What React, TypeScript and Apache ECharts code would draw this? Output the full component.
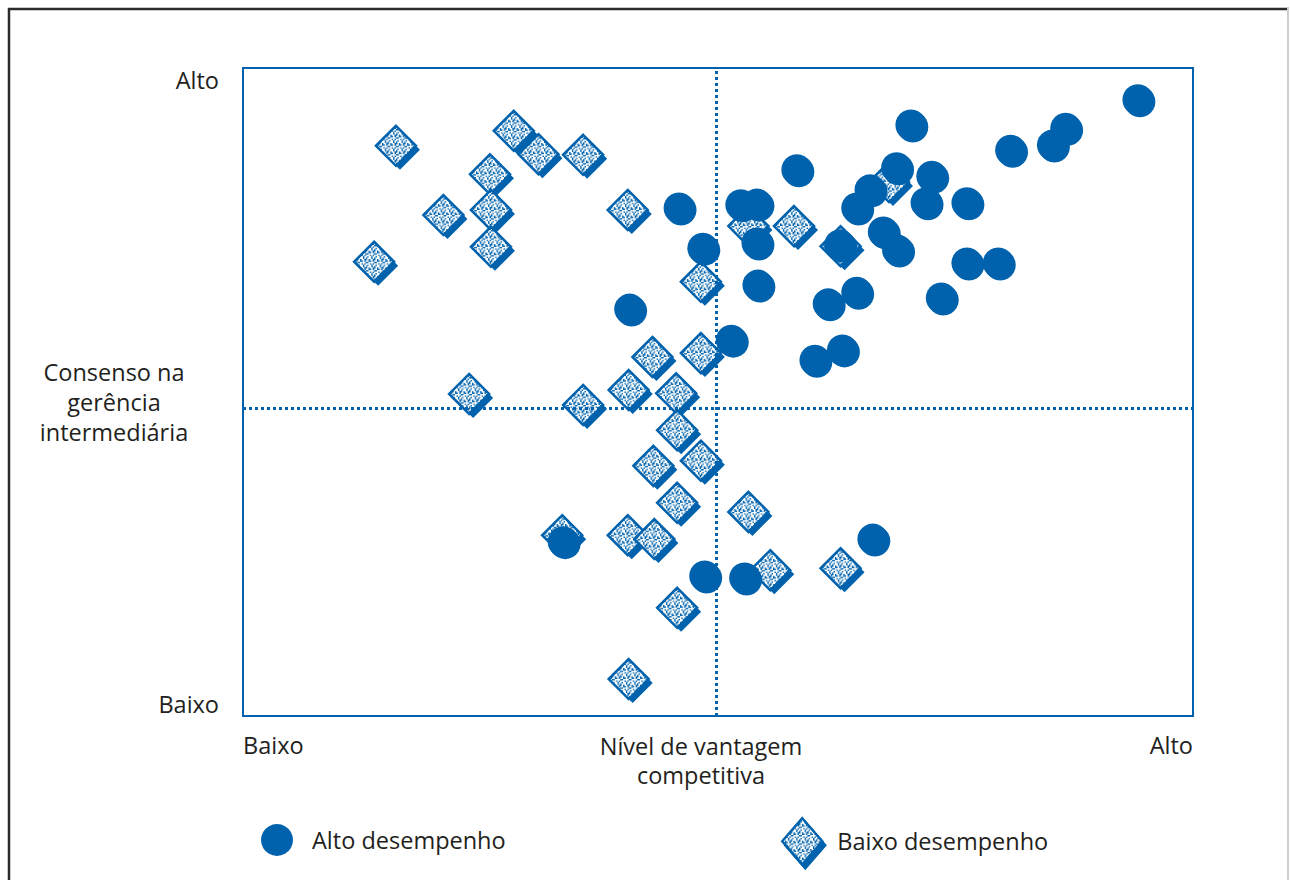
import React, { useEffect, useRef } from "react";
import * as echarts from "echarts";

// Alto desempenho (high performance) points: x = competitive advantage, y = middle-management consensus (0–100)
const altoX = [94.2, 86.6, 85.2, 80.8, 70.3, 58.3, 68.8, 72.5, 66.0, 64.6, 71.9, 76.2, 45.9, 52.4, 54.1, 54.1, 48.4, 67.4, 68.9, 62.8, 76.2, 79.5, 54.2, 64.6, 61.6, 73.5, 40.7, 51.4, 60.2, 63.1, 33.7, 66.3, 48.6, 52.8];
const altoY = [95.1, 90.7, 88.1, 87.3, 91.2, 84.3, 84.6, 83.3, 81.2, 78.4, 79.2, 79.2, 78.4, 78.9, 79.0, 73.0, 72.2, 74.7, 71.9, 72.7, 69.9, 69.9, 66.5, 65.4, 63.6, 64.5, 62.8, 58.0, 54.9, 56.5, 26.9, 27.3, 21.6, 21.3];

// Baixo desempenho (low performance) points
const baixoX = [16.1, 28.5, 31.1, 35.8, 26.0, 21.1, 26.1, 40.5, 26.1, 13.8, 53.2, 58.0, 62.9, 68.0, 48.2, 43.1, 48.2, 23.8, 35.8, 40.6, 45.6, 45.7, 43.2, 48.2, 45.7, 53.2, 33.6, 40.5, 43.3, 55.5, 62.9, 45.7, 40.6];
const baixoY = [88.0, 90.3, 86.7, 86.6, 83.6, 77.3, 78.1, 78.1, 72.4, 70.1, 75.6, 75.6, 72.5, 82.4, 67.0, 55.4, 56.0, 49.7, 48.0, 50.3, 49.8, 44.1, 38.6, 39.4, 32.9, 31.5, 27.9, 27.9, 27.3, 22.5, 22.8, 16.7, 5.7];

// Quadrant dividers
const xMid = [49.8];
const yMid = [47.5];

// Axis texts
const xTickLabels = ["Baixo", "Alto"];
const yTickLabels = ["Baixo", "Alto"];
const xAxisName = ["Nível de vantagem", "competitiva"];
const yAxisName = ["Consenso na", "gerência", "intermediária"];
const seriesNames = ["Alto desempenho", "Baixo desempenho"];

const BLUE = "#0062ad";
const TEXT = "#231f20";
const FONT = "'Open Sans', 'Noto Sans', sans-serif";
const FS = 23.5;
const DIAMOND = 40;
const CIRCLE = 31;

// speckled fill: 6x6 tile, each tile pixel drawn as a block of K canvas pixels
function makePattern(k: number): HTMLCanvasElement {
  const c = document.createElement("canvas");
  c.width = 6 * k;
  c.height = 6 * k;
  const ctx = c.getContext("2d")!;
  ctx.fillStyle = "#ffffff";
  ctx.fillRect(0, 0, 6 * k, 6 * k);
  ctx.fillStyle = BLUE;
  const dots = [
    [0, 0], [3, 1], [1, 2], [4, 3], [2, 4], [5, 5], [0, 3], [3, 5], [5, 1],
    [1, 0], [4, 2], [2, 5], [5, 4], [0, 4],
  ];
  dots.forEach(([x, y]) => ctx.fillRect(x * k, y * k, k, k));
  return c;
}

export default function App() {
  const ref = useRef<HTMLDivElement>(null);
  useEffect(() => {
    if (!ref.current) return;
    const chart = echarts.init(ref.current, undefined, { renderer: "svg" });
    const alto = altoX.map((x, i) => [x, altoY[i]]);
    const baixo = baixoX.map((x, i) => [x, baixoY[i]]);
    const k = 8;
    const s = DIAMOND / 2;
    const img = makePattern(k);
    // series symbols are unit paths scaled by size/2, so the pattern is scaled back down
    const pattern = { image: img, repeat: "repeat", scaleX: 1.4 / (k * s), scaleY: 1.4 / (k * s) } as any;
    const legendPattern = { image: img, repeat: "repeat", scaleX: 1.4 / k, scaleY: 1.4 / k } as any;
    const textStyle = { fontSize: FS, color: TEXT, fontFamily: FONT };
    chart.setOption({
      animation: false,
      backgroundColor: "#ffffff",
      grid: {
        left: 243,
        right: 97,
        top: 68,
        bottom: 164,
        show: true,
        borderColor: BLUE,
        borderWidth: 2,
        backgroundColor: "transparent",
      },
      xAxis: {
        type: "value",
        min: 0,
        max: 100,
        interval: 100,
        axisLine: { show: false },
        axisTick: { show: false },
        splitLine: { show: false },
        axisLabel: {
          ...textStyle,
          margin: 17,
          alignMinLabel: "left",
          alignMaxLabel: "right",
          formatter: (v: number) => (v === 0 ? xTickLabels[0] : xTickLabels[1]),
        },
      },
      yAxis: {
        type: "value",
        min: 0,
        max: 100,
        interval: 100,
        axisLine: { show: false },
        axisTick: { show: false },
        splitLine: { show: false },
        axisLabel: {
          ...textStyle,
          margin: 24,
          verticalAlignMinLabel: "bottom",
          verticalAlignMaxLabel: "top",
          formatter: (v: number) => (v === 0 ? yTickLabels[0] : yTickLabels[1]),
        },
      },
      legend: [
        {
          data: [seriesNames[0]],
          left: 256,
          top: 819,
          itemWidth: 32,
          itemHeight: 34,
          icon: "circle",
          selectedMode: false,
          textStyle: { ...textStyle, padding: [0, 0, 0, 14] },
        },
        {
          data: [
            {
              name: seriesNames[1],
              itemStyle: {
                color: legendPattern,
                borderColor: BLUE,
                borderWidth: 2.5,
                shadowColor: BLUE,
                shadowOffsetX: 3,
                shadowOffsetY: 4,
                shadowBlur: 0,
              },
            },
          ],
          left: 776,
          top: 812,
          itemWidth: 40,
          itemHeight: 46,
          icon: "diamond",
          selectedMode: false,
          textStyle: { ...textStyle, padding: [0, 0, 0, 10] },
        },
      ],
      graphic: [
        { type: "line", shape: { x1: 9, y1: 8, x2: 9, y2: 880 }, style: { stroke: "#2b2b2b", lineWidth: 2.5 }, silent: true },
        { type: "line", shape: { x1: 8, y1: 9, x2: 1289, y2: 9 }, style: { stroke: "#2b2b2b", lineWidth: 2.5 }, silent: true },
        { type: "line", shape: { x1: 1288, y1: 8, x2: 1288, y2: 880 }, style: { stroke: "#cfcfcf", lineWidth: 2 }, silent: true },
        {
          type: "text",
          x: 114,
          y: 357,
          silent: true,
          style: {
            text: yAxisName.join("\n"),
            textAlign: "center",
            textVerticalAlign: "top",
            lineHeight: 30,
            fontSize: FS,
            fill: TEXT,
            fontFamily: FONT,
          },
        },
        {
          type: "text",
          x: 701,
          y: 731,
          silent: true,
          style: {
            text: xAxisName.join("\n"),
            textAlign: "center",
            textVerticalAlign: "top",
            lineHeight: 29,
            fontSize: FS,
            fill: TEXT,
            fontFamily: FONT,
          },
        },
      ],
      series: [
        {
          name: "sombra-baixo",
          type: "scatter",
          symbol: "diamond",
          symbolSize: DIAMOND,
          symbolOffset: [4, 4],
          silent: true,
          z: 1,
          itemStyle: { color: BLUE, opacity: 1 },
          data: baixo,
        },
        {
          name: seriesNames[1],
          type: "scatter",
          symbol: "diamond",
          symbolSize: DIAMOND,
          z: 2,
          itemStyle: { color: pattern, borderColor: BLUE, borderWidth: 2.5, opacity: 1 },
          data: baixo,
          markLine: {
            silent: true,
            symbol: "none",
            label: { show: false },
            lineStyle: { color: BLUE, width: 3, type: [3, 3] },
            data: [{ xAxis: xMid[0] }, { yAxis: yMid[0] }],
          },
        },
        {
          name: "sombra-alto",
          type: "scatter",
          symbol: "circle",
          symbolSize: CIRCLE,
          symbolOffset: [2, 2],
          silent: true,
          z: 3,
          itemStyle: { color: BLUE, opacity: 1 },
          data: alto,
        },
        {
          name: seriesNames[0],
          type: "scatter",
          symbol: "circle",
          symbolSize: CIRCLE,
          z: 4,
          itemStyle: { color: BLUE, opacity: 1 },
          data: alto,
        },
      ],
    });
    return () => chart.dispose();
  }, []);
  return (
    <div
      ref={ref}
      style={{ position: "absolute", left: 0, top: 0, width: 1290, height: 880 }}
    />
  );
}
